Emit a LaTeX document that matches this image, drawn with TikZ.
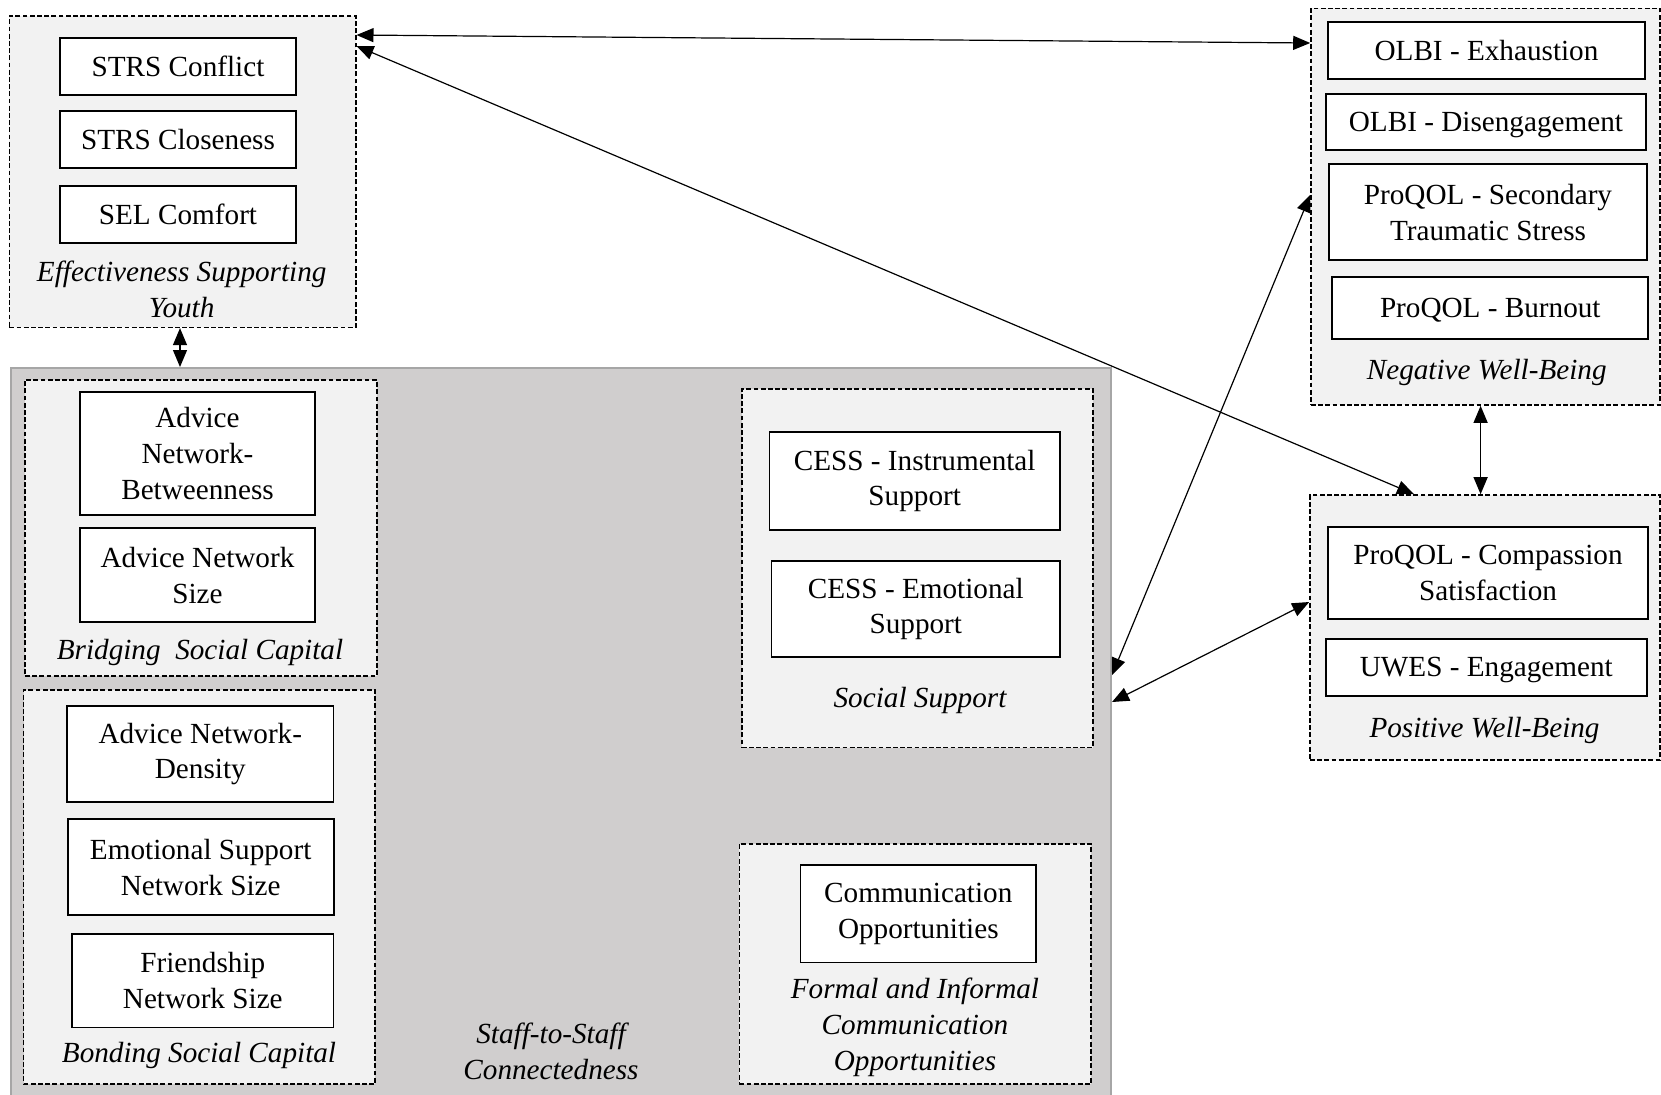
\documentclass[tikz,border=0pt]{standalone}
\usepackage{fontspec}
\setmainfont{Liberation Serif}
\usetikzlibrary{arrows.meta}
\definecolor{boxfill}{HTML}{F2F2F2}
\definecolor{staffgray}{HTML}{D0CECE}
\definecolor{staffline}{HTML}{A6A6A6}
\tikzset{
  every node/.style={font=\fontsize{14.6pt}{17.8pt}\selectfont},
  measure/.style={draw=black, fill=white, line width=0.85pt, align=center, inner sep=0pt},
  single/.style={text height=10.5pt, text depth=0.83pt},
  group/.style={draw=black, fill=boxfill, line width=0.8pt, dash pattern=on 2.4pt off 1.2pt, inner sep=0pt},
  grouplabel/.style={font=\fontsize{14.6pt}{17.8pt}\selectfont\itshape, align=center, inner sep=0pt, anchor=base},
  link/.style={line width=0.6pt, {Triangle[length=8.5pt,width=7pt]}-{Triangle[length=8.5pt,width=7pt]}},
}
\begin{document}
\begin{tikzpicture}[x=0.5pt, y=-0.5pt]
\clip (0,0) rectangle (1661,1094);
\fill[white] (0,0) rectangle (1661,1094);

% Effectiveness Supporting Youth
\node[group, minimum width=173.2pt, minimum height=155.8pt] (esy) at (182.5,171.5) {};
\node[measure, single, minimum width=117.7pt, minimum height=28.5pt] (strsconf) at (178,66.8) {STRS Conflict};
\node[measure, single, minimum width=117.7pt, minimum height=28.5pt] (strsclos) at (178,139.8) {STRS Closeness};
\node[measure, single, minimum width=117.7pt, minimum height=28.5pt] (selcomf) at (178,214.5) {SEL Comfort};
\node[grouplabel] (esylabel) at (181.7,317) {Effectiveness Supporting\\Youth};

% Staff-to-Staff Connectedness
\node[draw=staffline, fill=staffgray, line width=1pt, minimum width=550pt, minimum height=370pt, inner sep=0pt] (staff) at (561,738) {};
\node[grouplabel] (stafflabel) at (551,1079) {Staff-to-Staff\\Connectedness};

% Bridging
\node[group, minimum width=175.9pt, minimum height=148pt] (bridge) at (200.8,528) {};
\node[measure, minimum width=117.8pt, minimum height=61.2pt] (advbet) at (197.5,453.5) {Advice\\Network-\\Betweenness};
\node[measure, minimum width=117.8pt, minimum height=47pt] (advsize) at (197.5,575.3) {Advice Network\\Size};
\node[grouplabel] (bridgelabel) at (200,659.2) {Bridging\ \ Social Capital};

% Bonding
\node[group, minimum width=175.7pt, minimum height=197pt] (bond) at (199.3,887) {};
\node[measure, minimum width=133.3pt, minimum height=48pt] (advdens) at (200.3,754) {Advice Network-\\Density};
\node[measure, minimum width=133pt, minimum height=48pt] (emosize) at (200.7,867.3) {Emotional Support\\Network Size};
\node[measure, minimum width=130.8pt, minimum height=46.7pt] (friendsize) at (202.8,980.7) {Friendship\\Network Size};
\node[grouplabel] (bondlabel) at (199,1062.5) {Bonding Social Capital};

% Social Support
\node[group, minimum width=175.5pt, minimum height=179.3pt] (socsup) at (917.2,568.3) {};
\node[measure, minimum width=145.3pt, minimum height=49pt] (cessi) at (914.7,481) {CESS - Instrumental\\Support};
\node[measure, minimum width=144.2pt, minimum height=48.3pt] (cesse) at (915.8,609) {CESS - Emotional\\Support};
\node[grouplabel] (socsuplabel) at (920,707.5) {Social Support};

% Formal and Informal Communication Opportunities
\node[group, minimum width=175.7pt, minimum height=120pt] (formal) at (915,964) {};
\node[measure, minimum width=117.7pt, minimum height=48.8pt] (commopp) at (918.3,913.8) {Communication\\Opportunities};
\node[grouplabel] (formallabel) at (915,1070) {Formal and Informal\\Communication\\Opportunities};

% Negative Well-Being
\node[group, minimum width=174.5pt, minimum height=198.3pt] (nwb) at (1485.5,206.7) {};
\node[measure, single, minimum width=158.8pt, minimum height=28.2pt] (olbie) at (1486.5,50.5) {OLBI - Exhaustion};
\node[measure, single, minimum width=160.2pt, minimum height=28pt] (olbid) at (1485.9,122) {OLBI - Disengagement};
\node[measure, minimum width=158.7pt, minimum height=48pt] (sts) at (1488,212.3) {ProQOL - Secondary\\Traumatic Stress};
\node[measure, single, minimum width=158pt, minimum height=31pt] (burnout) at (1490.3,307.7) {ProQOL - Burnout};
\node[grouplabel] (nwblabel) at (1486.7,379.2) {Negative Well-Being};

% Positive Well-Being
\node[group, minimum width=175pt, minimum height=132.5pt] (pwb) at (1485,627.5) {};
\node[measure, minimum width=160.2pt, minimum height=45.9pt] (compsat) at (1488,573.2) {ProQOL - Compassion\\Satisfaction};
\node[measure, single, minimum width=160.4pt, minimum height=28.5pt] (uwes) at (1486.3,667.2) {UWES - Engagement};
\node[grouplabel] (pwblabel) at (1484.5,737.5) {Positive Well-Being};

% Connectors
\draw[link] (esy.east |- 0,35) -- (nwb.west |- 0,43);
\draw[link] (esy.east |- 0,46) -- (1414,0 |- pwb.north);
\draw[link] (staff.east |- 0,675) -- (nwb.west |- 0,195);
\draw[link] (staff.east |- 0,702) -- (pwb.west |- 0,602);
\draw[link] (180,0 |- esy.south) -- (180,0 |- staff.north);
\draw[link] (1480.6,0 |- nwb.south) -- (1480.6,0 |- pwb.north);
\end{tikzpicture}
\end{document}
